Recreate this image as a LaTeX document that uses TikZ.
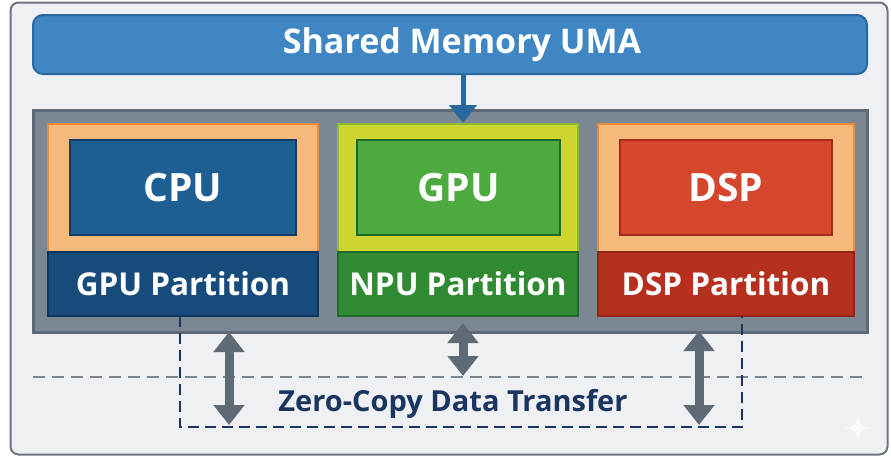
\documentclass[tikz,border=0pt]{standalone}
\usepackage{fontspec}
\setmainfont{Open Sans}
\usetikzlibrary{arrows.meta}
\definecolor{bgc}{HTML}{EEF0F3}
\definecolor{bgb}{HTML}{6B7580}
\definecolor{memf}{HTML}{3F86C2}
\definecolor{memb}{HTML}{2A68A0}
\definecolor{conf}{HTML}{7B8894}
\definecolor{conb}{HTML}{5E6A75}
\definecolor{orf}{HTML}{F5B97B}
\definecolor{orb}{HTML}{E98A3C}
\definecolor{cpuf}{HTML}{1D5E93}
\definecolor{cpub}{HTML}{123E66}
\definecolor{cpupf}{HTML}{174B7B}
\definecolor{cpupb}{HTML}{0F365A}
\definecolor{yef}{HTML}{CDD630}
\definecolor{yeb}{HTML}{8DBB35}
\definecolor{gpuf}{HTML}{4DAA3E}
\definecolor{gpub}{HTML}{1E6A2C}
\definecolor{npuf}{HTML}{2F8A31}
\definecolor{npub}{HTML}{1E6A28}
\definecolor{dspf}{HTML}{D4472C}
\definecolor{dspb}{HTML}{A62A1E}
\definecolor{dsppf}{HTML}{B6301F}
\definecolor{dsppb}{HTML}{95231A}
\definecolor{navy}{HTML}{1B3561}
\definecolor{dashg}{HTML}{7C8690}
\definecolor{arrg}{HTML}{5E6A76}
\tikzset{
  blk/.style={draw, line width=2pt, inner sep=0pt, text=white, font=\bfseries},
  bigtxt/.style={font=\fontsize{39}{43}\selectfont\bfseries},
  parttxt/.style={font=\fontsize{31.5}{35}\selectfont\bfseries},
  dbl/.style={arrg, line width=9pt, {Triangle[width=30pt,length=20pt]}-{Triangle[width=30pt,length=20pt]}},
}
\begin{document}
\begin{tikzpicture}[x=1pt,y=-1pt]
\useasboundingbox (0,0) rectangle (891,456);
% outer frame
\node[draw=bgb, fill=bgc, line width=2pt, rounded corners=8pt, minimum width=877pt, minimum height=452pt, inner sep=0pt] (frame) at (449,228.5) {};
% shared memory bar
\node[blk, draw=memb, fill=memf, rounded corners=10pt, minimum width=834pt, minimum height=59pt] (mem) at (450,44.5) {};
\node[text=white, font=\fontsize{34}{38}\selectfont\bfseries, inner sep=0pt] (memtxt) at (462,44.5) {Shared Memory UMA};
% container
\node[draw=conb, fill=conf, line width=3pt, minimum width=834pt, minimum height=222pt, inner sep=0pt] (cont) at (450,221) {};
% CPU column
\node[blk, draw=orb, fill=orf, minimum width=270pt, minimum height=128pt] (cpuframe) at (183,188) {};
\node[blk, draw=cpub, fill=cpuf, minimum width=226pt, minimum height=95pt, bigtxt] (cpu) at (183,187.5) {CPU};
\node[blk, draw=cpupb, fill=cpupf, minimum width=270pt, minimum height=64pt, parttxt] (cpup) at (183,284) {GPU Partition};
% GPU column
\node[blk, draw=yeb, fill=yef, minimum width=240pt, minimum height=128pt] (gpuframe) at (458,188) {};
\node[blk, draw=gpub, fill=gpuf, minimum width=203pt, minimum height=95pt, bigtxt] (gpu) at (458.5,187.5) {GPU};
\node[blk, draw=npub, fill=npuf, minimum width=240pt, minimum height=64pt, parttxt] (npup) at (458,284) {NPU Partition};
% DSP column
\node[blk, draw=orb, fill=orf, minimum width=256pt, minimum height=128pt] (dspframe) at (726,188) {};
\node[blk, draw=dspb, fill=dspf, minimum width=212pt, minimum height=95pt, bigtxt] (dsp) at (726,187.5) {DSP};
\node[blk, draw=dsppb, fill=dsppf, minimum width=256pt, minimum height=64pt, parttxt] (dspp) at (726,284) {DSP Partition};
% arrow from memory
\draw[memb, line width=5pt, -{Triangle[width=27pt,length=18pt]}] (mem.south -| 463,0) -- (463,123);
% horizontal dashed line
\coordinate (hl) at (33,377);
\coordinate (hr) at (866,377);
\draw[dashg, line width=2.6pt, dash pattern=on 12pt off 7pt] (hl) -- (hr);
% navy dashed bracket
\coordinate (bl) at (180,316);
\coordinate (br) at (742,316);
\draw[navy, line width=2.6pt, dash pattern=on 11pt off 6pt] (bl) -- (180,427) -- (742,427) -- (br);
% double arrows
\coordinate (a1t) at (229,332);
\coordinate (a1b) at (229,425);
\coordinate (a2t) at (463,323);
\coordinate (a2b) at (463,376);
\coordinate (a3t) at (699,331);
\coordinate (a3b) at (699,425);
\draw[dbl] (a1t) -- (a1b);
\draw[dbl] (a2t) -- (a2b);
\draw[dbl] (a3t) -- (a3b);
% label
\node[text=navy, font=\fontsize{29}{33}\selectfont\bfseries, inner sep=0pt] (zc) at (453,404) {Zero-Copy Data Transfer};
% faint sparkle
\fill[white, opacity=0.6] (858,413) .. controls (859,424) and (861,426) .. (872,428) .. controls (861,430) and (859,432) .. (858,443) .. controls (857,432) and (855,430) .. (844,428) .. controls (855,426) and (857,424) .. (858,413) -- cycle;
\end{tikzpicture}
\end{document}
